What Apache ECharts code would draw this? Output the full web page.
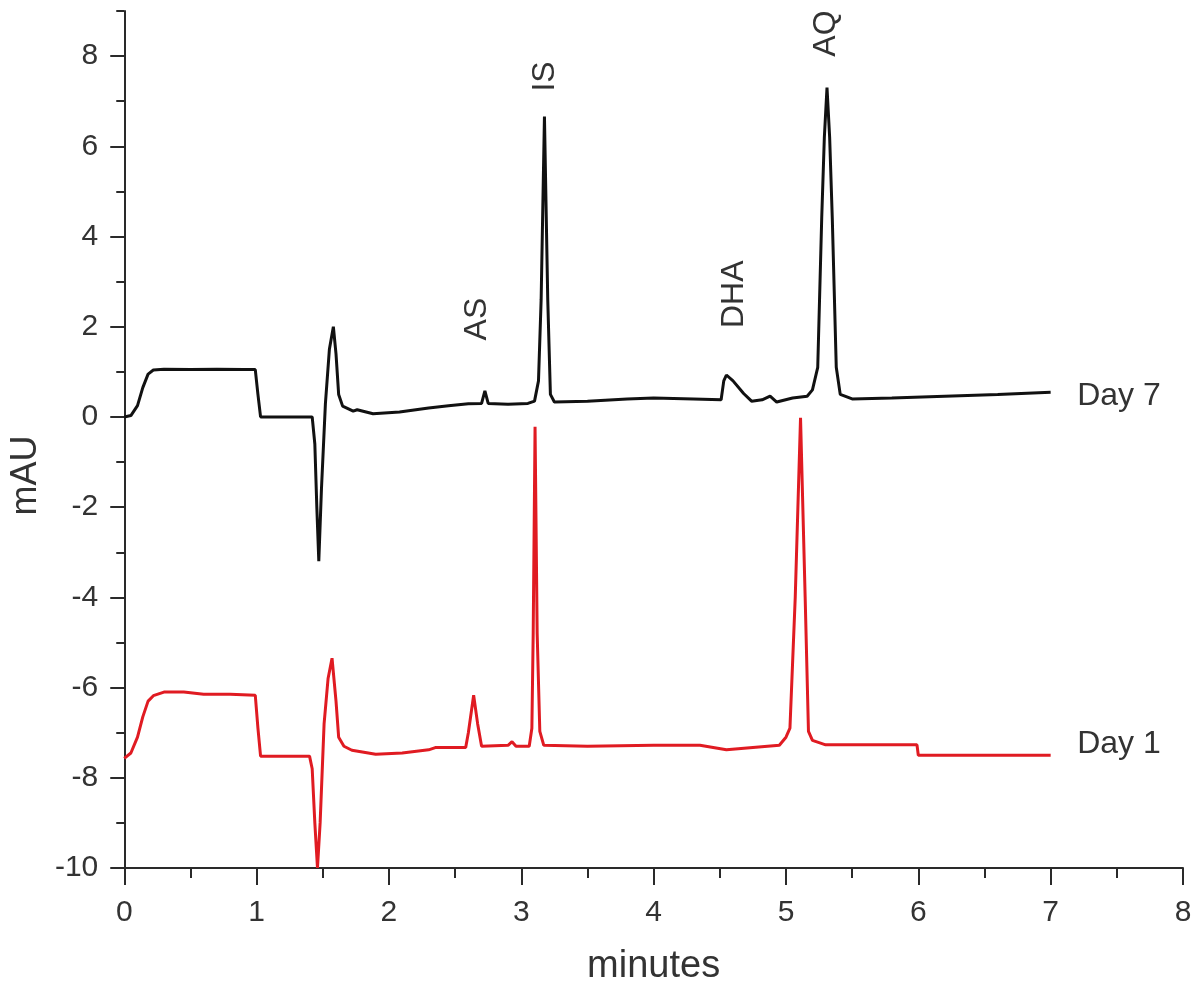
<!DOCTYPE html>
<html>
<head>
<meta charset="utf-8">
<script src="https://cdn.jsdelivr.net/npm/echarts@6/dist/echarts.min.js"></script>
<style>html,body{margin:0;padding:0;background:#fff}#c{width:1200px;height:991px}</style>
</head>
<body>
<div id="c"></div>
<script>
// Day 7 chromatogram (black): [minutes, mAU]
const day7 = [
  [0.00,0.00],[0.05,0.03],[0.10,0.25],[0.14,0.65],[0.18,0.95],[0.22,1.04],[0.30,1.06],
  [0.50,1.05],[0.70,1.06],[0.90,1.05],[0.99,1.05],[1.01,0.50],[1.03,0.00],[1.20,0.00],
  [1.42,0.00],[1.44,-0.6],[1.455,-2.0],[1.47,-3.2],[1.49,-1.6],[1.52,0.3],[1.55,1.5],
  [1.58,2.0],[1.60,1.4],[1.62,0.5],[1.65,0.24],[1.73,0.13],[1.76,0.16],[1.88,0.07],
  [2.08,0.11],[2.30,0.20],[2.45,0.25],[2.60,0.29],[2.70,0.30],[2.725,0.58],[2.75,0.30],
  [2.90,0.28],[3.05,0.30],[3.10,0.35],[3.13,0.8],[3.15,2.6],[3.175,6.66],[3.20,2.6],
  [3.22,0.5],[3.25,0.33],[3.50,0.35],[3.80,0.40],[4.00,0.42],[4.30,0.40],[4.51,0.38],
  [4.53,0.80],[4.55,0.93],[4.60,0.80],[4.68,0.52],[4.74,0.35],[4.82,0.38],[4.88,0.46],
  [4.93,0.33],[5.05,0.42],[5.16,0.46],[5.20,0.60],[5.24,1.10],[5.27,4.40],[5.29,6.20],
  [5.31,7.30],[5.33,6.20],[5.35,4.40],[5.38,1.10],[5.41,0.50],[5.50,0.40],[5.80,0.42],
  [6.20,0.46],[6.60,0.50],[7.00,0.55]
];
// Day 1 chromatogram (red): [minutes, mAU]
const day1 = [
  [0.00,-7.57],[0.05,-7.45],[0.10,-7.10],[0.14,-6.65],[0.18,-6.30],[0.22,-6.18],[0.30,-6.10],
  [0.45,-6.10],[0.60,-6.15],[0.80,-6.15],[0.99,-6.17],[1.01,-6.90],[1.03,-7.52],[1.20,-7.52],
  [1.40,-7.52],[1.42,-7.80],[1.44,-9.00],[1.46,-10.00],[1.48,-9.00],[1.51,-6.80],[1.54,-5.80],
  [1.57,-5.35],[1.60,-6.30],[1.62,-7.10],[1.66,-7.30],[1.72,-7.39],[1.90,-7.48],[2.10,-7.45],
  [2.30,-7.38],[2.35,-7.33],[2.58,-7.33],[2.60,-7.00],[2.64,-6.17],[2.67,-6.80],[2.70,-7.30],
  [2.90,-7.28],[2.93,-7.20],[2.96,-7.30],[3.06,-7.30],[3.08,-6.90],[3.09,-4.80],[3.104,-0.22],
  [3.12,-4.80],[3.14,-6.97],[3.17,-7.28],[3.50,-7.30],[4.00,-7.28],[4.35,-7.28],[4.55,-7.38],
  [4.75,-7.33],[4.95,-7.28],[5.00,-7.10],[5.03,-6.90],[5.07,-4.00],[5.11,-0.02],[5.145,-4.00],
  [5.17,-6.97],[5.20,-7.17],[5.30,-7.27],[5.99,-7.27],[6.00,-7.50],[7.00,-7.50]
];
// Peak annotations (rotated text) at [minutes, mAU]
const peakNames = ['AS','IS','DHA','AQ'];
const peakPos = [[2.67,2.17],[3.18,7.55],[4.61,2.72],[5.30,8.5]];
// Trace labels
const traceNames = ['Day 7','Day 1'];
const tracePos = [[7.2,0.45],[7.2,-7.26]];
// Tick values
const xTicks = [0,1,2,3,4,5,6,7,8];
const yMajor = [-10,-8,-6,-4,-2,0,2,4,6,8];
const yMinor = [-9,-7,-5,-3,-1,1,3,5,7,9];

const FONT = '"Liberation Sans", Arial, sans-serif';
const TXT = '#333333';
const AX = '#2a2a2a';

const chart = echarts.init(document.getElementById('c'), null, {renderer:'canvas'});
chart.setOption({
  animation:false,
  backgroundColor:'#fff',
  grid:{left:124,right:17,top:11,bottom:120},
  xAxis:{
    type:'value',min:0,max:8,interval:1,
    axisLine:{onZero:false,lineStyle:{color:AX,width:2}},
    axisTick:{length:17,lineStyle:{color:AX,width:2}},
    minorTick:{show:true,splitNumber:2,length:10,lineStyle:{color:AX,width:2}},
    splitLine:{show:false},
    axisLabel:{color:TXT,fontSize:30,fontFamily:FONT,margin:30,
      customValues:xTicks},
    name:'minutes',nameLocation:'middle',nameGap:80,
    nameTextStyle:{color:TXT,fontSize:38,fontFamily:FONT}
  },
  yAxis:[{
    type:'value',min:-10,max:9,
    axisLine:{show:true,onZero:false,lineStyle:{color:AX,width:2}},
    axisTick:{show:true,length:14,lineStyle:{color:AX,width:2},customValues:yMajor},
    splitLine:{show:false},
    axisLabel:{color:TXT,fontSize:30,fontFamily:FONT,margin:26,customValues:yMajor},
    name:'mAU',nameLocation:'middle',nameGap:76,
    nameTextStyle:{color:TXT,fontSize:36,fontFamily:FONT,padding:[0,72,0,0]}
  },{
    type:'value',min:-10,max:9,position:'left',
    axisLine:{show:false},
    axisTick:{show:true,length:8,lineStyle:{color:AX,width:2},customValues:yMinor},
    axisLabel:{show:false},
    splitLine:{show:false}
  }],
  series:[
    {type:'line',name:'Day 7',data:day7,showSymbol:false,symbol:'none',
     lineStyle:{color:'#111111',width:3},z:3},
    {type:'line',name:'Day 1',data:day1,showSymbol:false,symbol:'none',
     lineStyle:{color:'#e01b22',width:3},z:2},
    {type:'scatter',symbolSize:0,silent:true,itemStyle:{opacity:1},
     data:peakPos.map((p,i)=>({value:p,name:peakNames[i]})),
     label:{show:true,position:'inside',rotate:90,formatter:p=>p.name,
       color:TXT,fontSize:32,fontFamily:FONT}},
    {type:'scatter',symbolSize:0,silent:true,itemStyle:{opacity:1},
     data:tracePos.map((p,i)=>({value:p,name:traceNames[i]})),
     label:{show:true,position:'right',distance:0,formatter:p=>p.name,
       color:TXT,fontSize:32,fontFamily:FONT}}
  ]
});
</script>
</body>
</html>
